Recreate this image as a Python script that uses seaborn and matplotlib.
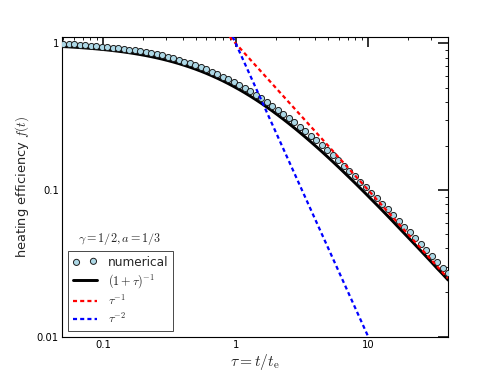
import matplotlib
matplotlib.use("Agg")
import matplotlib.pyplot as plt
import matplotlib.ticker as mticker
import seaborn as sns
import pandas as pd

# ---- data ----
tau = [0.0500, 0.0550, 0.0605, 0.0666, 0.0733, 0.0806, 0.0887, 0.0976, 0.1074, 0.1182,
       0.1300, 0.1430, 0.1574, 0.1732, 0.1905, 0.2097, 0.2307, 0.2538, 0.2793, 0.3073,
       0.3381, 0.3720, 0.4093, 0.4503, 0.4955, 0.5452, 0.5998, 0.6600, 0.7261, 0.7990,
       0.8790, 0.9672, 1.0641, 1.1708, 1.2882, 1.4173, 1.5596, 1.7160, 1.8880, 2.0775,
       2.2856, 2.5148, 2.7669, 3.0445, 3.3497, 3.6856, 4.0551, 4.4619, 4.9091, 5.4014,
       5.9429, 6.5387, 7.1945, 7.9160, 8.7096, 9.5831, 10.544, 11.601, 12.764, 14.044,
       15.453, 17.002, 18.707, 20.583, 22.646, 24.917, 27.416, 30.164, 33.189, 36.517, 40.18]

numerical = [0.995, 0.991, 0.985, 0.980, 0.974, 0.967, 0.960, 0.952, 0.944, 0.935,
             0.929, 0.919, 0.907, 0.897, 0.884, 0.872, 0.857, 0.841, 0.829, 0.811,
             0.792, 0.774, 0.753, 0.734, 0.712, 0.689, 0.668, 0.643, 0.620, 0.595,
             0.569, 0.544, 0.519, 0.495, 0.471, 0.447, 0.423, 0.400, 0.376, 0.354,
             0.332, 0.311, 0.291, 0.271, 0.253, 0.235, 0.218, 0.202, 0.187, 0.1726,
             0.1593, 0.1468, 0.1352, 0.1243, 0.1142, 0.1049, 0.0961, 0.0881, 0.0807, 0.0738,
             0.0675, 0.0616, 0.0563, 0.0514, 0.0470, 0.0428, 0.0391, 0.0356, 0.0324, 0.0296, 0.0270]

analytic = [0.952, 0.948, 0.943, 0.9376, 0.9317, 0.9254, 0.9185, 0.9111, 0.9030, 0.8943,
            0.8850, 0.8749, 0.8640, 0.8524, 0.8400, 0.8267, 0.8126, 0.7976, 0.7817, 0.7649,
            0.7473, 0.7289, 0.7095, 0.6895, 0.6687, 0.6472, 0.6251, 0.6024, 0.5793, 0.5559,
            0.5322, 0.5083, 0.4845, 0.4607, 0.4370, 0.4137, 0.3907, 0.3682, 0.3463, 0.3249,
            0.3044, 0.2845, 0.2655, 0.2472, 0.2299, 0.2134, 0.1978, 0.1831, 0.1692, 0.1562,
            0.1440, 0.1326, 0.1220, 0.1122, 0.1030, 0.0945, 0.0866, 0.0794, 0.0727, 0.0665,
            0.0608, 0.0555, 0.0507, 0.0463, 0.0423, 0.0386, 0.0352, 0.0321, 0.0292, 0.0267, 0.0243]

tau_red = [0.9, 40.0]
f_red = [1.111, 0.025]
tau_blue = [0.9, 10.0]
f_blue = [1.235, 0.01]

xticks = [0.1, 1, 10]
xticklabels = ["0.1", "1", "10"]
yticks = [0.01, 0.1, 1]
yticklabels = ["0.01", "0.1", "1"]

labels = ["numerical", r"$(1+\tau)^{-1}$", r"$\tau^{-1}$", r"$\tau^{-2}$"]

# ---- style ----
sns.set_style("white")
plt.rcParams["font.family"] = ["DejaVu Sans"]
plt.rcParams["mathtext.fontset"] = "cm"

dpi = 62.25
fig = plt.figure(figsize=(498 / dpi, 374 / dpi), dpi=dpi)
ax = fig.add_axes([0.125, 0.1, 0.775, 0.8])

df_num = pd.DataFrame({"tau": tau, "f": numerical})
df_an = pd.DataFrame({"tau": tau, "f": analytic})
df_red = pd.DataFrame({"tau": tau_red, "f": f_red})
df_blue = pd.DataFrame({"tau": tau_blue, "f": f_blue})

sns.lineplot(data=df_an, x="tau", y="f", ax=ax, color="black", lw=3.4,
             label=labels[1], estimator=None, sort=False, zorder=2)
sns.scatterplot(data=df_num, x="tau", y="f", ax=ax, color="#add8e6", s=50,
                edgecolor="#1a1a1a", linewidth=1.1, label=labels[0], zorder=3)
sns.lineplot(data=df_red, x="tau", y="f", ax=ax, color="red", lw=2.6,
             linestyle=(0, (1.8, 1.4)), label=labels[2], estimator=None, sort=False, zorder=4)
sns.lineplot(data=df_blue, x="tau", y="f", ax=ax, color="blue", lw=2.6,
             linestyle=(0, (1.8, 1.4)), label=labels[3], estimator=None, sort=False, zorder=5)

ax.set_xscale("log")
ax.set_yscale("log")
ax.set_xlim(0.049, 40.2)
ax.set_ylim(0.01, 1.1)

ax.xaxis.set_major_locator(mticker.FixedLocator(xticks))
ax.xaxis.set_major_formatter(mticker.FixedFormatter(xticklabels))
ax.yaxis.set_major_locator(mticker.FixedLocator(yticks))
ax.yaxis.set_major_formatter(mticker.FixedFormatter(yticklabels))
ax.xaxis.set_minor_locator(mticker.LogLocator(base=10, subs=range(2, 10), numticks=20))
ax.yaxis.set_minor_locator(mticker.LogLocator(base=10, subs=range(2, 10), numticks=20))
ax.xaxis.set_minor_formatter(mticker.NullFormatter())
ax.yaxis.set_minor_formatter(mticker.NullFormatter())

ax.tick_params(which="major", direction="in", length=11, width=1.8,
               top=True, right=True, labelsize=11.5, pad=4, colors="black")
ax.tick_params(which="minor", direction="in", length=4, width=1.0,
               top=True, right=True, colors="black")
for sp in ax.spines.values():
    sp.set_color("black")
    sp.set_linewidth(1.3)

ax.set_xlabel(r"$\tau = t/t_{\rm e}$", fontsize=18, labelpad=2)
ax.set_ylabel(r"heating efficiency $f(t)$", fontsize=15, labelpad=6)

handles, labs = ax.get_legend_handles_labels()
order = [labs.index(l) for l in labels]
leg = ax.legend([handles[i] for i in order], [labs[i] for i in order],
                loc="lower left", bbox_to_anchor=(0.015, 0.018), borderaxespad=0,
                fontsize=14, scatterpoints=2, handlelength=2.0, handletextpad=0.9,
                labelspacing=0.28, borderpad=0.4, fancybox=False, frameon=True)
leg.get_frame().set_edgecolor("black")
leg.get_frame().set_linewidth(1.0)

ax.text(0.04, 0.325, r"$\gamma=1/2, a=1/3$", transform=ax.transAxes,
        fontsize=14, va="center", ha="left")

fig.savefig("out.png", dpi=dpi)
